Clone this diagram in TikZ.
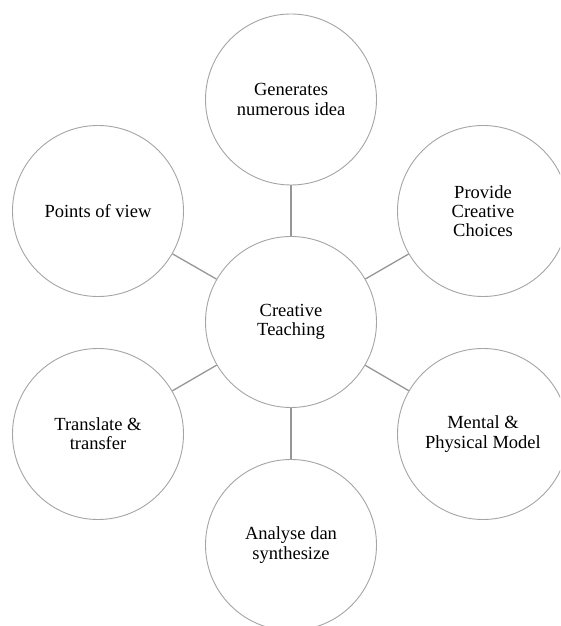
\documentclass[tikz,border=0pt]{standalone}
\usepackage{fontspec}
\setmainfont{Liberation Serif}
\definecolor{ringgray}{RGB}{165,165,165}
\definecolor{linkgray}{RGB}{150,150,150}
\tikzset{
  bubble/.style={circle, draw=ringgray, line width=0.9pt, fill=white,
    minimum size=171pt, inner sep=0pt, align=center,
    font=\fontsize{18.5}{19.3}\selectfont, text=black},
  link/.style={draw=linkgray, line width=1.3pt}
}
\begin{document}
\begin{tikzpicture}[x=1pt,y=1pt]
\useasboundingbox (0,0) rectangle (560,626);
\clip (0,0) rectangle (560,626);
\node[bubble] (c)  at (291,304)   {Creative\\Teaching};
\node[bubble] (g)  at (291,526.5) {Generates\\numerous idea};
\node[bubble] (b)  at (291,81)    {Analyse dan\\synthesize};
\node[bubble] (ul) at (98,415)    {Points of view};
\node[bubble] (ur) at (483,415)   {Provide\\Creative\\Choices};
\node[bubble] (ll) at (98,192)    {Translate \&\\transfer};
\node[bubble] (lr) at (483,192)   {Mental \&\\Physical Model};
\path[link] (c) -- (g);
\path[link] (c) -- (b);
\path[link] (c) -- (ul);
\path[link] (c) -- (ur);
\path[link] (c) -- (ll);
\path[link] (c) -- (lr);
\end{tikzpicture}
\end{document}
